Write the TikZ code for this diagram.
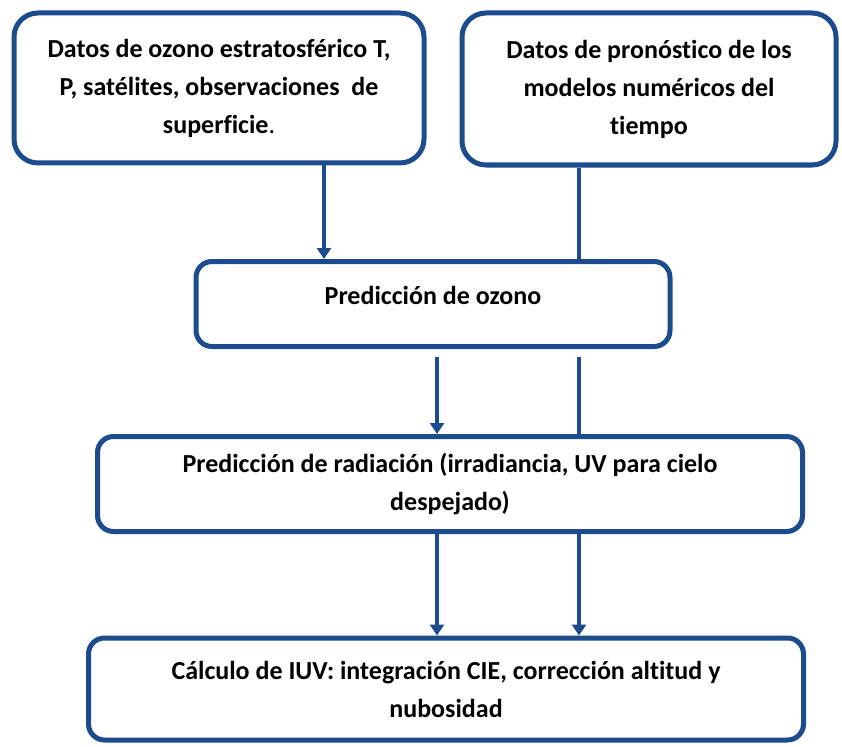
\documentclass[tikz,border=0pt]{standalone}
\usepackage{fontspec}
\setmainfont{Carlito}[Ligatures=NoCommon]
\usetikzlibrary{arrows.meta,positioning}
\definecolor{iuvblue}{HTML}{1C4B8E}

\begin{document}
\begin{tikzpicture}[
  x=1pt, y=-1pt,
  font=\fontsize{26}{38}\selectfont\bfseries,
  box/.style={draw=iuvblue, line width=5pt, rounded corners=#1, fill=white,
              align=center, inner sep=0pt},
  box/.default=16pt,
  arrow/.style={-{Triangle[length=11pt,width=14pt]}, line width=4pt, draw=iuvblue},
  link/.style={line width=4pt, draw=iuvblue}
]
\useasboundingbox (0,0) rectangle (842,746);

\node[box=24pt, minimum width=410pt, minimum height=150pt] (datos) at (219,88)
  {Datos de ozono estratosférico T,\\P, satélites, observaciones\ \ de\\superficie{\mdseries.}};
\node[box=24pt, minimum width=374pt, minimum height=152pt] (pronos) at (649,89)
  {Datos de pronóstico de los\\modelos numéricos del\\tiempo};
\node[box, minimum width=474pt, minimum height=85pt, text depth=18pt] (ozono) at (433,304)
  {Predicción de ozono};
\node[box, minimum width=705pt, minimum height=95pt] (radia) at (450,484)
  {Predicción de radiación (irradiancia, UV para cielo\\despejado)};
\node[box, minimum width=715pt, minimum height=102pt] (iuv) at (446,689)
  {Cálculo de IUV: integración CIE, corrección altitud y\\nubosidad};

% columns of the connectors
\coordinate (colA) at (324,0);
\coordinate (colL) at (437,0);
\coordinate (colR) at (579,0);

\draw[arrow] (datos.south -| colA) -- (ozono.north -| colA);
\draw[link] (pronos.south -| colR) -- (ozono.north -| colR);
\draw[arrow, shorten <=8pt] (ozono.south -| colL) -- (radia.north -| colL);
\draw[link, shorten <=8pt] (ozono.south -| colR) -- (radia.north -| colR);
\draw[arrow] (radia.south -| colL) -- (iuv.north -| colL);
\draw[arrow] (radia.south -| colR) -- (iuv.north -| colR);
\end{tikzpicture}
\end{document}
